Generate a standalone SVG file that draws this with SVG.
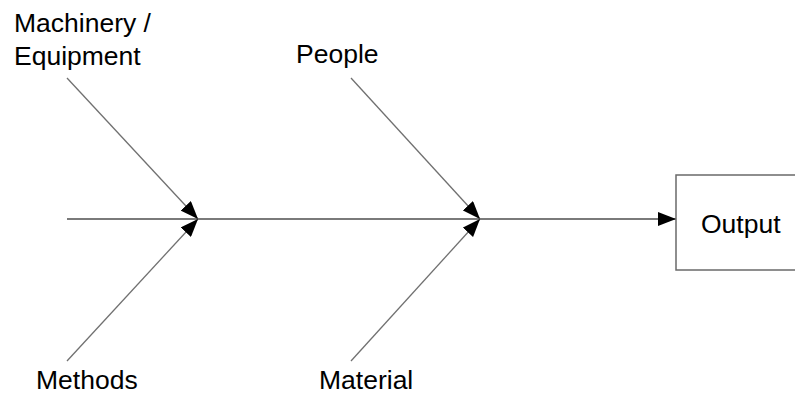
<svg xmlns="http://www.w3.org/2000/svg" width="795" height="396" viewBox="0 0 795 396">
<style>
text{font-family:"Liberation Sans",Arial,sans-serif;font-size:26.5px;fill:#000}
.main{stroke:#7a7a7a;stroke-width:2;fill:none}
.bone{stroke:#707070;stroke-width:1.3;fill:none}
.box{stroke:#6a6a6a;stroke-width:1.5;fill:#fff}
</style>
<defs>
<marker id="ah" viewBox="0 0 18 14" refX="18" refY="7" markerWidth="18" markerHeight="14" markerUnits="userSpaceOnUse" orient="auto">
<path d="M0,0 L18,7 L0,14 Z" fill="#000"/>
</marker>
</defs>
<g id="connectors">
<line class="main" x1="67" y1="219" x2="198" y2="219"/>
<line class="main" x1="198" y1="219" x2="480" y2="219"/>
<line class="main" x1="480" y1="219" x2="676" y2="219" marker-end="url(#ah)"/>
<line class="bone" x1="67" y1="78" x2="198" y2="219" marker-end="url(#ah)"/>
<line class="bone" x1="67" y1="361" x2="198" y2="219" marker-end="url(#ah)"/>
<line class="bone" x1="351" y1="78" x2="480" y2="219" marker-end="url(#ah)"/>
<line class="bone" x1="351" y1="361" x2="480" y2="219" marker-end="url(#ah)"/>
</g>
<g id="machinery"><text x="14" y="32">Machinery /</text><text x="14" y="65">Equipment</text></g>
<g id="people"><text x="296" y="63">People</text></g>
<g id="methods"><text x="36" y="389">Methods</text></g>
<g id="material"><text x="319" y="389">Material</text></g>
<g id="output"><rect class="box" x="676" y="175" width="130" height="95"/><text x="701" y="233">Output</text></g>
</svg>
